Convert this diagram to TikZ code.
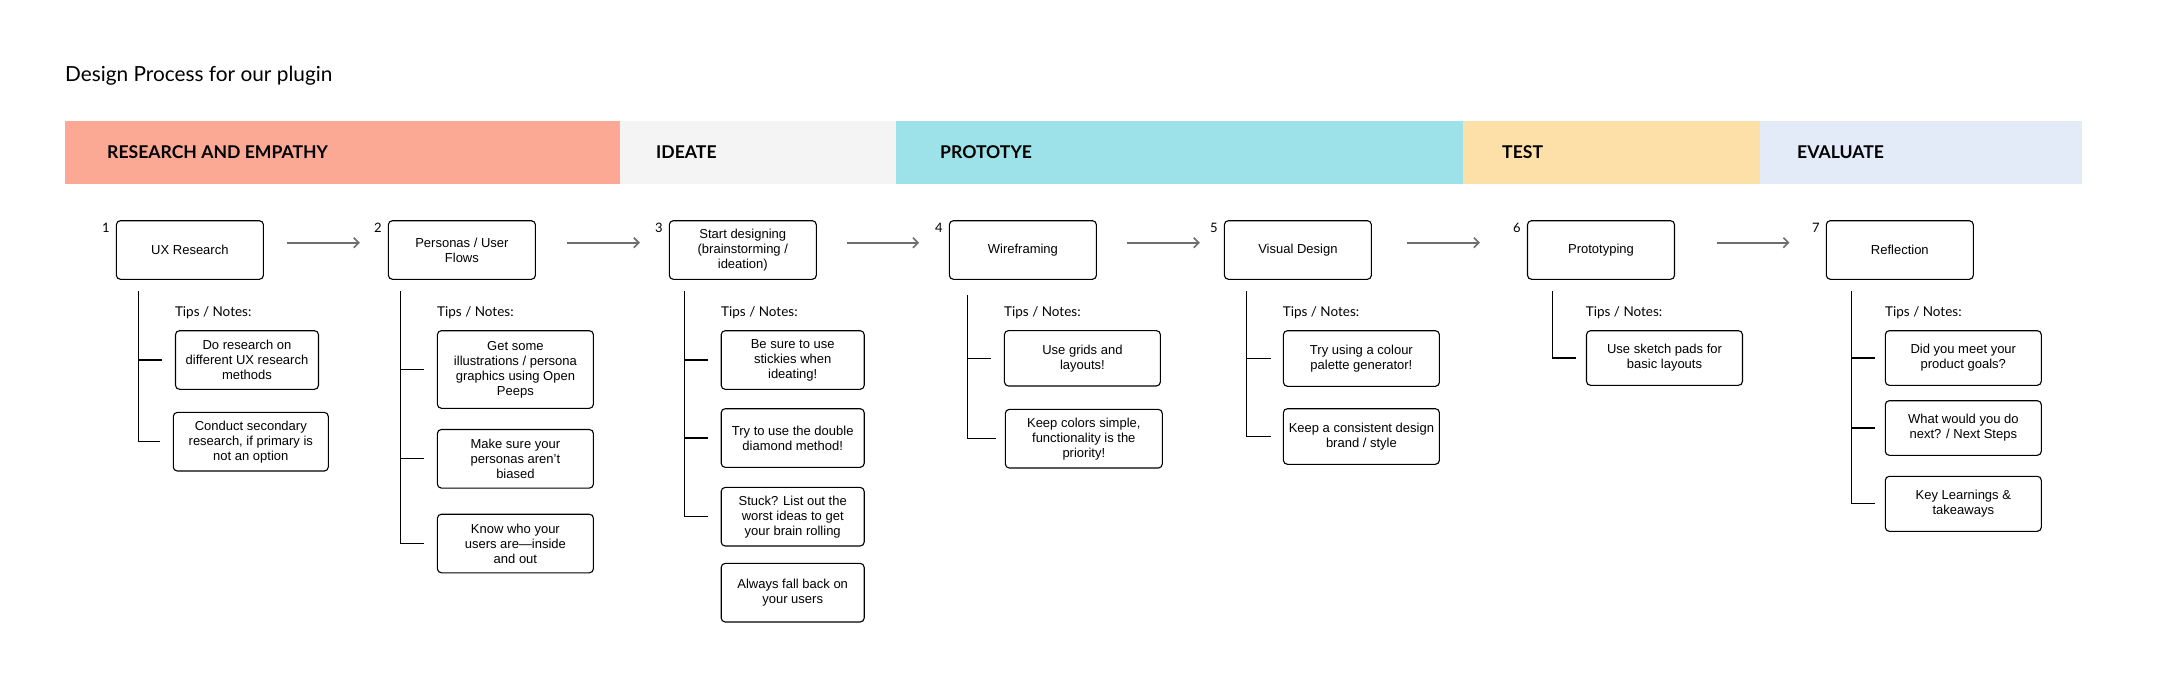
\documentclass[tikz,border=0pt]{standalone}
\usepackage{fontspec}
\setmainfont{Liberation Sans}
\newfontfamily\headfont{Lato}
\usepackage{tikz}
\usetikzlibrary{arrows.meta, positioning, calc}
\definecolor{bandresearch}{HTML}{FBA994}
\definecolor{bandideate}{HTML}{F4F4F4}
\definecolor{bandproto}{HTML}{9CE2E8}
\definecolor{bandtest}{HTML}{FDE0A8}
\definecolor{bandeval}{HTML}{E4EBF8}
\definecolor{flowgray}{HTML}{6E6E6E}

\begin{document}
\begin{tikzpicture}[x=1pt, y=-1pt,
  band/.style={rectangle, fill=#1, minimum height=63.5pt, inner sep=0pt, anchor=north west},
  bandlbl/.style={font=\headfont\bfseries\fontsize{17.6}{20}\selectfont, anchor=west, inner sep=0pt},
  stage/.style={rectangle, draw, line width=1.1pt, rounded corners=4pt,
    minimum width=147pt, minimum height=58.6pt, align=center, inner sep=2pt,
    font=\fontsize{13}{15}\selectfont},
  note/.style={stage, minimum width=#1},
  note/.default=156pt,
  num/.style={font=\headfont\fontsize{13}{15}\selectfont, inner sep=1pt},
  tips/.style={font=\headfont\fontsize{13.5}{15}\selectfont, anchor=west, inner sep=0pt},
  flow/.style={draw=flowgray, line width=1.6pt, -{Straight Barb[length=5pt, width=10pt]}},
  tree/.style={draw, line width=1.1pt},
]
  \fill[white] (0,0) rectangle (2171,688);

  % title
  \node[font=\headfont\fontsize{20.8}{24}\selectfont, anchor=base west, inner sep=0pt] (title) at (65,81.7) {Design Process for our plugin};

  % phase bands
  \foreach \n/\l/\r/\c/\o/\t in {1/65/620/bandresearch/42/RESEARCH AND EMPATHY,
      2/620/896/bandideate/36/IDEATE, 3/896/1463/bandproto/44/PROTOTYE,
      4/1463/1760/bandtest/39/TEST, 5/1760/2082/bandeval/37/EVALUATE}{
    \node[band=\c, minimum width={\r pt-\l pt}] (b\n) at (\l,120.5) {};
    \node[bandlbl] (l\n) at ([xshift=\o pt]b\n.west) {\t};
  }

  % main steps
  \node[stage] (s1) at (189.9,250) {UX Research};
  \node[stage] (s2) at (461.9,250) {Personas / User\\Flows};
  \node[stage] (s3) at (742.8,250) {Start designing\\(brainstorming /\\ideation)};
  \node[stage] (s4) at (1022.9,250) {Wireframing};
  \node[stage] (s5) at (1297.9,250) {Visual Design};
  \node[stage] (s6) at (1601,250) {Prototyping};
  \node[stage] (s7) at (1899.8,250) {Reflection};

  \foreach \i in {1,...,7}
    \node[num, anchor=north east] (k\i) at ([xshift=-5pt, yshift=-2pt]s\i.north west) {\i};

  \foreach \a/\b/\p/\q in {1/2/23.4/28, 2/3/30.7/28.8, 3/4/29.8/29.8,
      4/5/30.2/24, 5/6/35/47, 6/7/41.5/36.3}
    \draw[flow, shorten <=\p pt, shorten >=\q pt] ([yshift=7.3pt]s\a.east) -- ([yshift=7.3pt]s\b.west);

  % notes
  \node[note=143pt] (n1a) at (247,360) {Do research on\\different UX research\\methods};
  \node[note=155pt] (n1b) at (250.8,441.7) {Conduct secondary\\research, if primary is\\not an option};

  \node[note, minimum height=77.6pt] (n2a) at (515.4,369.5) {Get some\\illustrations / persona\\graphics using Open\\Peeps};
  \node[note] (n2b) at (515.4,458.8) {Make sure your\\personas aren’t\\biased};
  \node[note] (n2c) at (515.4,543.5) {Know who your\\users are—inside\\and out};

  \node[note=143pt] (n3a) at (792.7,360) {Be sure to use\\stickies when\\ideating!};
  \node[note=143pt] (n3b) at (792.7,438) {Try to use the double\\diamond method!};
  \node[note=143pt] (n3c) at (792.7,516.7) {Stuck? List out the\\worst ideas to get\\your brain rolling};
  \node[note=143pt] (n3d) at (792.7,592.7) {Always fall back on\\your users};

  \node[note, minimum height=55.3pt] (n4a) at (1082.4,358.3) {Use grids and\\layouts!};
  \node[note=157pt] (n4b) at (1083.8,438.7) {Keep colors simple,\\functionality is the\\priority!};

  \node[note, minimum height=55.6pt] (n5a) at (1361.4,358.5) {Try using a colour\\palette generator!};
  \node[note, minimum height=55.6pt] (n5b) at (1361.4,436.5) {Keep a consistent design\\brand / style};

  \node[note, minimum height=54.6pt] (n6a) at (1664.5,358) {Use sketch pads for\\basic layouts};

  \node[note, minimum height=54.6pt] (n7a) at (1963.3,358) {Did you meet your\\product goals?};
  \node[note, minimum height=54.6pt] (n7b) at (1963.3,428) {What would you do\\next? / Next Steps};
  \node[note, minimum height=55pt] (n7c) at (1963.3,503.8) {Key Learnings \&\\takeaways};

  % tips labels
  \node[tips] (t1) at (174.8,312.7) {Tips / Notes:};
  \node[tips] (t2) at (437,312.7) {Tips / Notes:};
  \node[tips] (t3) at (721,312.7) {Tips / Notes:};
  \node[tips] (t4) at (1004,312.7) {Tips / Notes:};
  \node[tips] (t5) at (1282.6,312.7) {Tips / Notes:};
  \node[tips] (t6) at (1585.7,312.7) {Tips / Notes:};
  \node[tips] (t7) at (1885,312.7) {Tips / Notes:};

  % tree lines
  \coordinate (r1) at (138.5,291);
  \coordinate (r2) at (400.6,291);
  \coordinate (r3) at (684.6,291);
  \coordinate (r4) at (967.4,295.3);
  \coordinate (r5) at (1246.2,291);
  \coordinate (r6) at (1552.4,291);
  \coordinate (r7) at (1851.3,291);

  \draw[tree] (r1) |- ([xshift=-13pt]n1b.west);
  \draw[tree] (r1 |- n1a.west) -- ([xshift=-13pt]n1a.west);

  \draw[tree] (r2) |- ([xshift=-12.6pt]n2c.west);
  \foreach \k in {a,b}
    \draw[tree] (r2 |- n2\k.west) -- ([xshift=-12.6pt]n2\k.west);

  \draw[tree] (r3) |- ([xshift=-12.6pt]n3c.west);
  \foreach \k in {a,b}
    \draw[tree] (r3 |- n3\k.west) -- ([xshift=-12.6pt]n3\k.west);

  \draw[tree] (r4) |- ([xshift=-8.4pt]n4b.west);
  \draw[tree] (r4 |- n4a.west) -- ([xshift=-13pt]n4a.west);

  \draw[tree] (r5) |- ([xshift=-12.3pt]n5b.west);
  \draw[tree] (r5 |- n5a.west) -- ([xshift=-12.3pt]n5a.west);

  \draw[tree] (r6) |- ([xshift=-9.5pt]n6a.west);

  \draw[tree] (r7) |- ([xshift=-9.6pt]n7c.west);
  \foreach \k in {a,b}
    \draw[tree] (r7 |- n7\k.west) -- ([xshift=-9.6pt]n7\k.west);

  \useasboundingbox (0,0) rectangle (2171,688);
\end{tikzpicture}
\end{document}
